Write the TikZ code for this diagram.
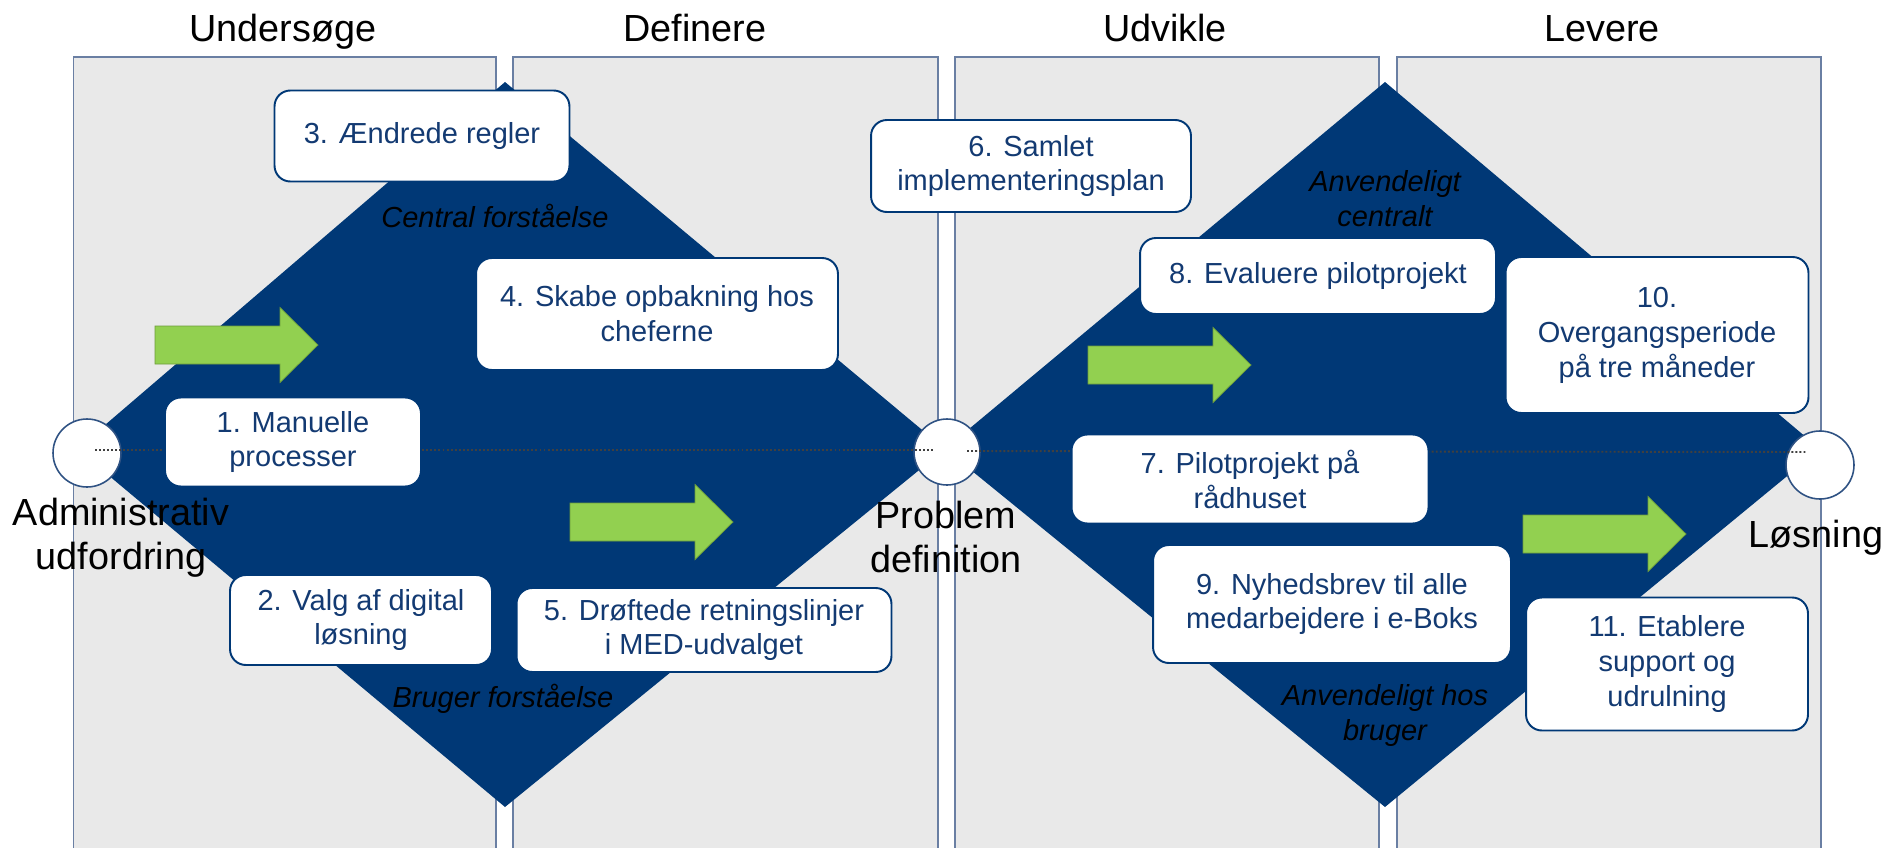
\documentclass[tikz,border=0pt]{standalone}
\usepackage{fontspec}
\setmainfont{Liberation Sans}
\usetikzlibrary{calc}

\definecolor{navy}{HTML}{003876}
\definecolor{boxtext}{HTML}{133A72}
\definecolor{panelgray}{HTML}{E9E9E9}
\definecolor{panelline}{HTML}{6A7FA3}
\definecolor{arrowgreen}{HTML}{92D050}
\definecolor{ringline}{HTML}{2F5283}

\tikzset{
  panel/.style={fill=panelgray, draw=panelline, line width=0.6pt},
  box/.style={draw=navy, fill=white, line width=1.1pt, rounded corners=9pt, align=center,
    text=boxtext, inner sep=2pt, font=\fontsize{16.5}{19.9}\selectfont},
  ring/.style={circle, draw=ringline, fill=white, line width=0.9pt, inner sep=0pt},
  phase/.style={font=\fontsize{21.5}{24.5}\selectfont, anchor=base},
  milestone/.style={font=\fontsize{21.5}{24.5}\selectfont, align=center, anchor=base},
  axislabel/.style={font=\fontsize{16.5}{19.4}\selectfont\itshape, align=center, anchor=base},
  dotline/.style={draw=black!75, line width=1.1pt, dash pattern=on 1.1pt off 1.2pt},
}

\begin{document}
\begin{tikzpicture}[x=0.02cm, y=-0.02cm]

\useasboundingbox (0,0) rectangle (1893,848);

% phase columns
\draw[panel] (73.5,57) rectangle (496,855);
\draw[panel] (513,57) rectangle (938,855);
\draw[panel] (955,57) rectangle (1379,855);
\draw[panel] (1397,57) rectangle (1821,855);

% double diamond
\coordinate (W1) at (77,449);
\coordinate (N1) at (505,82);
\coordinate (E1) at (945,449);
\coordinate (S1) at (505,807);
\coordinate (N2) at (1385,82);
\coordinate (E2) at (1820,449);
\coordinate (S2) at (1385,807);

\fill[navy] (W1) -- (N1) -- (E1) -- (S1) -- cycle;
\fill[navy] (E1) -- (N2) -- (E2) -- (S2) -- cycle;

% milestones
\node[ring, minimum size=1.36cm] (c1) at (87,453) {};
\node[ring, minimum size=1.32cm] (c2) at (947,452) {};
\node[ring, minimum size=1.36cm] (c3) at (1820,465) {};

\draw[dotline] ($(c1.center)+(8,-3)$) -- ($(c2.center)+(-12,-2)$);
\draw[dotline] ($(c2.center)+(20,-1)$) -- ($(c3.center)+(-13,-13)$);

% steps
\node[box, minimum width=5.12cm, minimum height=1.78cm] (s1) at (293,442) {1. Manuelle\\processer};
\node[box, minimum width=5.24cm, minimum height=1.80cm] (s2) at (361,620) {2. Valg af digital\\løsning};
\node[box, minimum width=5.90cm, minimum height=1.82cm] (s3) at (422,136) {3. Ændrede regler};
\node[box, minimum width=7.24cm, minimum height=2.24cm] (s4) at (657,314) {4. Skabe opbakning hos\\cheferne};
\node[box, minimum width=7.50cm, minimum height=1.68cm] (s5) at (704,630) {5. Drøftede retningslinjer\\i MED-udvalget};
\node[box, minimum width=6.40cm, minimum height=1.84cm] (s6) at (1031,166) {6. Samlet\\implementeringsplan};
\node[box, minimum width=7.14cm, minimum height=1.78cm] (s7) at (1250,479) {7. Pilotprojekt på\\rådhuset};
\node[box, minimum width=7.12cm, minimum height=1.52cm] (s8) at (1318,276) {8. Evaluere pilotprojekt};
\node[box, minimum width=7.16cm, minimum height=2.36cm] (s9) at (1332,604) {9. Nyhedsbrev til alle\\medarbejdere i e-Boks};
\node[box, minimum width=6.06cm, minimum height=3.12cm] (s10) at (1657,335) {10.\\Overgangsperiode\\på tre måneder};
\node[box, minimum width=5.64cm, minimum height=2.66cm] (s11) at (1667,664) {11. Etablere\\support og\\udrulning};

% green block arrows (tail x, middle y)
\newcommand{\greenarrow}[2]{%
  \filldraw[fill=arrowgreen, draw=arrowgreen!75!black, line width=0.4pt]
    (#1,#2-19) -- ++(125,0) -- ++(0,-18.5) -- ++(38,37.5) -- ++(-38,37.5) -- ++(0,-18.5) -- ++(-125,0) -- cycle;
}
\greenarrow{155}{345}
\greenarrow{570}{522}
\greenarrow{1088}{365}
\greenarrow{1523}{534}

% labels inside the diamonds (base = last line)
\node[axislabel] (t1) at (495,227) {Central forståelse};
\node[axislabel] (t2) at (503,707) {Bruger forståelse};
\node[axislabel] (t3) at (1385,226) {Anvendeligt\\centralt};
\node[axislabel] (t4) at (1385,740) {Anvendeligt hos\\bruger};

\node[milestone] (m1) at (121,569) {Administrativ\\udfordring};
\node[milestone] (m2) at (946,572) {Problem\\definition};
\node[milestone] (m3) at (1816,547) {Løsning};

% phase titles
\node[phase] (h1) at (283,42) {Undersøge};
\node[phase] (h2) at (695,42) {Definere};
\node[phase] (h3) at (1165,42) {Udvikle};
\node[phase] (h4) at (1602,42) {Levere};

\end{tikzpicture}
\end{document}
